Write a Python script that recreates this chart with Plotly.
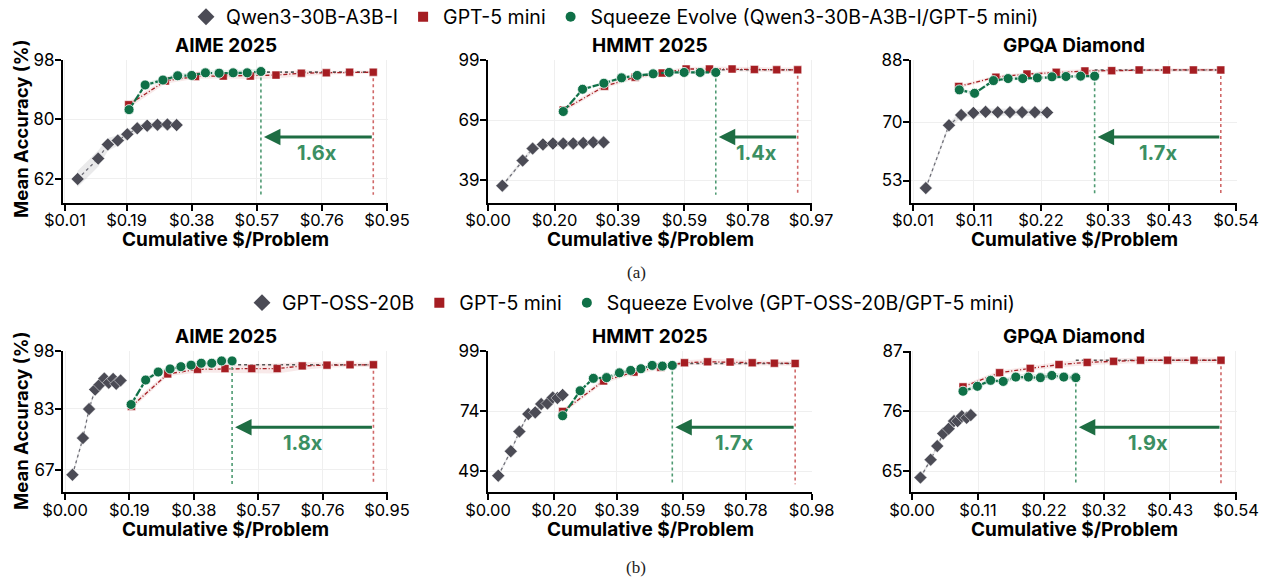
import plotly.graph_objects as go

# ---------------- data ----------------
benchmarks = ["AIME 2025", "HMMT 2025", "GPQA Diamond"]
weak_a_name = "Qwen3-30B-A3B-I"
weak_b_name = "GPT-OSS-20B"
strong_name = "GPT-5 mini"
squeeze_a_name = "Squeeze Evolve (Qwen3-30B-A3B-I/GPT-5 mini)"
squeeze_b_name = "Squeeze Evolve (GPT-OSS-20B/GPT-5 mini)"

# GPT-5 mini cumulative $/problem (same budgets in both rows)
gpt5_cost_aime = [0.196, 0.303, 0.391, 0.472, 0.551, 0.626, 0.700, 0.773, 0.841, 0.910]
gpt5_cost_hmmt = [0.226, 0.350, 0.442, 0.523, 0.595, 0.665, 0.733, 0.800, 0.867, 0.930]
gpt5_cost_gpqa = [0.085, 0.146, 0.197, 0.245, 0.292, 0.336, 0.381, 0.426, 0.470, 0.515]

# ---- row (a): Qwen3-30B-A3B-I ----
a_aime_weak_cost = [0.047, 0.107, 0.135, 0.164, 0.192, 0.221, 0.250, 0.280, 0.309, 0.336]
a_aime_weak_acc = [61.9, 68.1, 72.4, 73.6, 75.5, 77.3, 78.1, 78.4, 78.5, 78.3]
a_aime_weak_err = [2.5, 2.5, 2.0, 1.6, 1.4, 1.2, 1.0, 1.0, 1.0, 1.0]
a_aime_gpt5_acc = [84.5, 91.7, 93.1, 93.2, 93.2, 93.5, 94.1, 94.2, 94.4, 94.4]
a_aime_gpt5_err = [1.0, 0.8, 0.7, 0.7, 0.9, 1.0, 0.9, 0.6, 0.5, 0.5]
a_aime_sq_cost = [0.197, 0.244, 0.296, 0.339, 0.380, 0.420, 0.460, 0.501, 0.542, 0.582]
a_aime_sq_acc = [83.0, 90.5, 92.0, 93.3, 93.4, 94.2, 94.1, 94.2, 94.2, 94.6]
a_aime_sq_err = [0.6, 0.7, 0.7, 0.8, 0.8, 0.8, 0.8, 0.8, 0.9, 0.9]

a_hmmt_weak_cost = [0.043, 0.104, 0.134, 0.165, 0.195, 0.226, 0.256, 0.286, 0.316, 0.347]
a_hmmt_weak_acc = [36.4, 48.9, 54.9, 57.0, 57.4, 57.4, 57.5, 57.7, 58.0, 58.0]
a_hmmt_weak_err = [1.0, 1.0, 1.2, 1.5, 1.5, 1.5, 1.5, 1.5, 1.5, 1.5]
a_hmmt_gpt5_acc = [74.2, 86.0, 90.5, 92.6, 94.6, 94.6, 94.6, 94.4, 94.2, 94.2]
a_hmmt_gpt5_err = [1.2, 1.0, 1.0, 1.0, 1.0, 1.2, 1.2, 1.2, 1.2, 1.2]
a_hmmt_sq_cost = [0.226, 0.284, 0.348, 0.401, 0.448, 0.496, 0.544, 0.589, 0.637, 0.684]
a_hmmt_sq_acc = [73.4, 84.5, 87.5, 90.2, 91.4, 92.2, 92.9, 92.9, 92.9, 92.9]
a_hmmt_sq_err = [0.8, 0.8, 0.8, 0.8, 0.8, 0.8, 0.8, 0.8, 0.8, 0.8]

a_gpqa_weak_cost = [0.031, 0.069, 0.089, 0.109, 0.129, 0.149, 0.169, 0.189, 0.210, 0.230]
a_gpqa_weak_acc = [50.8, 69.1, 72.1, 72.7, 73.0, 72.9, 72.9, 72.9, 72.9, 72.8]
a_gpqa_weak_err = [0.6, 0.8, 1.0, 1.0, 1.0, 1.0, 1.0, 1.0, 1.0, 1.0]
a_gpqa_gpt5_acc = [80.4, 83.1, 84.0, 84.5, 84.9, 85.0, 85.2, 85.2, 85.2, 85.2]
a_gpqa_gpt5_err = [0.5, 0.5, 0.5, 0.6, 0.6, 0.5, 0.5, 0.5, 0.5, 0.5]
a_gpqa_sq_cost = [0.086, 0.111, 0.142, 0.166, 0.190, 0.214, 0.238, 0.261, 0.285, 0.308]
a_gpqa_sq_acc = [79.4, 78.4, 82.1, 82.7, 82.7, 82.9, 83.2, 83.3, 83.4, 83.4]
a_gpqa_sq_err = [0.5, 0.5, 0.5, 0.5, 0.5, 0.5, 0.5, 0.5, 0.5, 0.5]

# ---- row (b): GPT-OSS-20B ----
b_aime_weak_cost = [0.022, 0.053, 0.071, 0.089, 0.102, 0.116, 0.129, 0.142, 0.151, 0.164]
b_aime_weak_acc = [65.7, 75.3, 82.9, 88.0, 89.3, 90.9, 89.8, 90.8, 89.5, 90.4]
b_aime_weak_err = [0.6, 0.6, 0.6, 0.6, 0.6, 0.6, 0.6, 0.6, 0.6, 0.6]
b_aime_gpt5_acc = [83.6, 92.1, 93.3, 93.5, 93.5, 93.5, 94.2, 94.4, 94.5, 94.5]
b_aime_gpt5_err = [0.8, 0.6, 0.8, 1.0, 1.2, 1.3, 1.0, 0.7, 0.6, 0.6]
b_aime_sq_cost = [0.195, 0.238, 0.275, 0.310, 0.342, 0.372, 0.402, 0.433, 0.462, 0.493]
b_aime_sq_acc = [84.1, 90.5, 92.6, 93.4, 94.0, 94.4, 94.9, 94.9, 95.5, 95.5]
b_aime_sq_err = [0.6, 0.6, 0.6, 0.6, 0.6, 0.6, 0.7, 0.7, 0.8, 0.8]

b_hmmt_weak_cost = [0.031, 0.069, 0.095, 0.122, 0.143, 0.161, 0.180, 0.196, 0.210, 0.226]
b_hmmt_weak_acc = [47.1, 57.3, 65.5, 72.8, 73.5, 77.0, 77.2, 79.7, 79.5, 80.8]
b_hmmt_weak_err = [0.8, 0.8, 0.8, 0.8, 0.8, 0.8, 0.8, 0.8, 0.8, 0.8]
b_hmmt_gpt5_acc = [73.9, 86.6, 90.3, 92.3, 94.2, 94.6, 94.5, 94.2, 94.0, 93.9]
b_hmmt_gpt5_err = [1.0, 1.0, 1.0, 1.0, 1.0, 1.2, 1.2, 1.0, 1.0, 1.0]
b_hmmt_sq_cost = [0.226, 0.279, 0.319, 0.359, 0.398, 0.432, 0.463, 0.497, 0.528, 0.558]
b_hmmt_sq_acc = [72.1, 82.5, 87.7, 88.0, 90.0, 91.0, 91.7, 93.1, 92.8, 93.1]
b_hmmt_sq_err = [0.7, 0.7, 0.7, 0.7, 0.7, 0.7, 0.7, 0.7, 0.7, 0.7]

b_gpqa_weak_cost = [0.014, 0.031, 0.042, 0.052, 0.061, 0.070, 0.076, 0.083, 0.091, 0.098]
b_gpqa_weak_acc = [63.8, 67.1, 69.6, 71.9, 72.8, 74.2, 74.2, 75.1, 74.8, 75.3]
b_gpqa_weak_err = [0.4, 0.4, 0.4, 0.5, 0.5, 0.5, 0.5, 0.5, 0.5, 0.5]
b_gpqa_gpt5_acc = [80.5, 83.1, 83.9, 84.6, 85.0, 85.2, 85.4, 85.4, 85.4, 85.4]
b_gpqa_gpt5_err = [0.4, 0.4, 0.4, 0.5, 0.5, 0.5, 0.5, 0.5, 0.5, 0.5]
b_gpqa_sq_cost = [0.085, 0.109, 0.131, 0.152, 0.173, 0.194, 0.214, 0.233, 0.253, 0.273]
b_gpqa_sq_acc = [79.7, 80.6, 81.7, 81.5, 82.3, 82.3, 82.2, 82.6, 82.3, 82.2]
b_gpqa_sq_err = [0.4, 0.4, 0.4, 0.4, 0.5, 0.6, 0.6, 0.6, 0.5, 0.5]

speedups_a = ["1.6x", "1.4x", "1.7x"]
speedups_b = ["1.8x", "1.7x", "1.9x"]

xticks_a = [[0.01, 0.19, 0.38, 0.57, 0.76, 0.95], [0.00, 0.20, 0.39, 0.59, 0.78, 0.97], [0.01, 0.11, 0.22, 0.33, 0.43, 0.54]]
xticks_b = [[0.00, 0.19, 0.38, 0.57, 0.76, 0.95], [0.00, 0.20, 0.39, 0.59, 0.78, 0.98], [0.00, 0.11, 0.22, 0.32, 0.43, 0.54]]
yticks_a = [[62, 80, 98], [39, 69, 99], [53, 70, 88]]
yticks_b = [[67, 83, 98], [49, 74, 99], [65, 76, 87]]

# ---------------- styling / layout ----------------
W, H = 1270, 581
FONT = "Inter"
GRAY = "#4b4b55"
GRAY_LINE = "#6f6f78"
RED = "#a51d22"
GREEN = "#0f7047"
ARROW = "#1e6d43"
TXT_GREEN = "#3b8f62"
VRED = "#d06868"
VGREEN = "#4e9a72"
BAND_GRAY = "rgba(150,150,155,0.20)"
BAND_RED = "rgba(200,70,70,0.12)"
BAND_GREEN = "rgba(20,120,70,0.12)"

col_px = [(63, 388), (488, 812), (911, 1237)]
row_px = {"a": (60, 202.5), "b": (351, 492)}
x_ranges = {"a": [[0.0042, 0.953], [0.0, 0.973], [0.0067, 0.5416]],
            "b": [[-0.0059, 0.953], [0.0, 0.981], [-0.0017, 0.5417]]}
y_ranges = {"a": [[54.74, 98.1], [28.0, 99.1], [46.6, 88.1]],
            "b": [[61.2, 98.1], [40.3, 99.1], [61.15, 87.1]]}

panels = [
    ("a", 0, a_aime_weak_cost, a_aime_weak_acc, a_aime_weak_err, gpt5_cost_aime, a_aime_gpt5_acc, a_aime_gpt5_err, a_aime_sq_cost, a_aime_sq_acc, a_aime_sq_err),
    ("a", 1, a_hmmt_weak_cost, a_hmmt_weak_acc, a_hmmt_weak_err, gpt5_cost_hmmt, a_hmmt_gpt5_acc, a_hmmt_gpt5_err, a_hmmt_sq_cost, a_hmmt_sq_acc, a_hmmt_sq_err),
    ("a", 2, a_gpqa_weak_cost, a_gpqa_weak_acc, a_gpqa_weak_err, gpt5_cost_gpqa, a_gpqa_gpt5_acc, a_gpqa_gpt5_err, a_gpqa_sq_cost, a_gpqa_sq_acc, a_gpqa_sq_err),
    ("b", 0, b_aime_weak_cost, b_aime_weak_acc, b_aime_weak_err, gpt5_cost_aime, b_aime_gpt5_acc, b_aime_gpt5_err, b_aime_sq_cost, b_aime_sq_acc, b_aime_sq_err),
    ("b", 1, b_hmmt_weak_cost, b_hmmt_weak_acc, b_hmmt_weak_err, gpt5_cost_hmmt, b_hmmt_gpt5_acc, b_hmmt_gpt5_err, b_hmmt_sq_cost, b_hmmt_sq_acc, b_hmmt_sq_err),
    ("b", 2, b_gpqa_weak_cost, b_gpqa_weak_acc, b_gpqa_weak_err, gpt5_cost_gpqa, b_gpqa_gpt5_acc, b_gpqa_gpt5_err, b_gpqa_sq_cost, b_gpqa_sq_acc, b_gpqa_sq_err),
]

fig = go.Figure()
layout = {}
annotations = []


def band(xr, yr, cost, acc, err, color):
    up = [a + e for a, e in zip(acc, err)]
    lo = [a - e for a, e in zip(acc, err)]
    fig.add_trace(go.Scatter(x=list(cost) + list(cost)[::-1], y=up + lo[::-1], fill="toself",
                             fillcolor=color, line=dict(width=0), mode="lines", hoverinfo="skip",
                             showlegend=False, xaxis=xr, yaxis=yr))


for i, (row, col, wc, wa, we, gc, ga, ge, sc, sa, se) in enumerate(panels):
    n = "" if i == 0 else str(i + 1)
    xr, yr = "x" + n, "y" + n
    x0p, x1p = col_px[col]
    y0p, y1p = row_px[row]
    xrange_ = x_ranges[row][col]
    yrange_ = y_ranges[row][col]
    xt = (xticks_a if row == "a" else xticks_b)[col]
    yt = (yticks_a if row == "a" else yticks_b)[col]
    layout["xaxis" + n] = dict(domain=[x0p / W, x1p / W], range=xrange_, anchor=yr, automargin=False,
                               tickvals=xt, ticktext=["$%.2f" % v for v in xt],
                               showline=True, linecolor="black", linewidth=2, mirror=False,
                               ticks="outside", ticklen=6, tickwidth=2, tickcolor="black",
                               ticklabelstandoff=-4,
                               showgrid=True, gridcolor="#efefef", gridwidth=1, zeroline=False,
                               tickfont=dict(family=FONT, size=16.5, color="black"))
    layout["yaxis" + n] = dict(domain=[1 - y1p / H, 1 - y0p / H], range=yrange_, anchor=xr, automargin=False,
                               tickvals=yt, ticktext=[str(v) for v in yt],
                               showline=True, linecolor="black", linewidth=2,
                               ticks="outside", ticklen=6, tickwidth=2, tickcolor="black",
                               ticklabelstandoff=-3,
                               showgrid=True, gridcolor="#efefef", gridwidth=1, zeroline=False,
                               tickfont=dict(family=FONT, size=17, color="black"))

    lo_y, hi_y = yrange_
    # bands
    band(xr, yr, wc, wa, we, BAND_GRAY)
    band(xr, yr, gc, ga, ge, BAND_RED)
    band(xr, yr, sc, sa, se, BAND_GREEN)

    # vertical dotted lines at final budgets
    y_foot = lo_y + 0.055 * (hi_y - lo_y)
    fig.add_trace(go.Scatter(x=[gc[-1], gc[-1]], y=[ga[-1], y_foot], mode="lines",
                             line=dict(color=VRED, width=1.6, dash="dot"), hoverinfo="skip",
                             showlegend=False, xaxis=xr, yaxis=yr))
    fig.add_trace(go.Scatter(x=[sc[-1], sc[-1]], y=[sa[-1], y_foot], mode="lines",
                             line=dict(color=VGREEN, width=1.6, dash="dot"), hoverinfo="skip",
                             showlegend=False, xaxis=xr, yaxis=yr))
    # horizontal reference at GPT-5 mini final accuracy
    fig.add_trace(go.Scatter(x=[sc[-1], gc[-1]], y=[ga[-1], ga[-1]], mode="lines",
                             line=dict(color="#555555", width=1.6, dash="dot"), hoverinfo="skip",
                             showlegend=False, xaxis=xr, yaxis=yr))

    # series
    fig.add_trace(go.Scatter(x=wc, y=wa, mode="lines+markers",
                             line=dict(color=GRAY_LINE, width=1.3, dash="dot"),
                             marker=dict(symbol="diamond", size=10, color=GRAY, line=dict(color="white", width=0.5)),
                             showlegend=False, xaxis=xr, yaxis=yr))
    fig.add_trace(go.Scatter(x=gc, y=ga, mode="lines+markers",
                             line=dict(color=RED, width=1.3, dash="4px,2px,1px,2px"),
                             marker=dict(symbol="square", size=8, color=RED, line=dict(color="white", width=0.5)),
                             showlegend=False, xaxis=xr, yaxis=yr))
    fig.add_trace(go.Scatter(x=sc, y=sa, mode="lines+markers",
                             line=dict(color=GREEN, width=2.2, dash="8px,2px"),
                             marker=dict(symbol="circle", size=10, color=GREEN, line=dict(color="white", width=0.8)),
                             showlegend=False, xaxis=xr, yaxis=yr))

    # arrow + speedup text
    y_arrow = lo_y + 0.46 * (hi_y - lo_y)
    y_text = lo_y + 0.35 * (hi_y - lo_y)
    annotations.append(dict(x=sc[-1], y=y_arrow, ax=gc[-1], ay=y_arrow, xref=xr, yref=yr,
                            axref=xr, ayref=yr, text="", showarrow=True, arrowhead=2,
                            arrowsize=1.1, arrowwidth=3, arrowcolor=ARROW, standoff=3))
    annotations.append(dict(x=(sc[-1] + gc[-1]) / 2, y=y_text, xref=xr, yref=yr, showarrow=False,
                            text="<b>%s</b>" % (speedups_a if row == "a" else speedups_b)[col],
                            font=dict(family=FONT, size=20, color=TXT_GREEN)))

    # subplot title and x-axis title
    cx = (x0p + x1p) / 2 / W
    title_y = 45 if row == "a" else 336
    xt_y = 239 if row == "a" else 529
    annotations.append(dict(x=cx, y=1 - title_y / H, xref="paper", yref="paper", showarrow=False,
                            text="<b>%s</b>" % benchmarks[col], xanchor="center", yanchor="middle",
                            font=dict(family=FONT, size=19, color="black")))
    annotations.append(dict(x=cx, y=1 - xt_y / H, xref="paper", yref="paper", showarrow=False,
                            text="<b>Cumulative $/Problem</b>", xanchor="center", yanchor="middle",
                            font=dict(family=FONT, size=19, color="black")))

# y-axis titles
for yc in (129, 421):
    annotations.append(dict(x=21 / W, y=1 - yc / H, xref="paper", yref="paper", showarrow=False,
                            text="<b>Mean Accuracy (%)</b>", textangle=-90, xanchor="center", yanchor="middle",
                            font=dict(family=FONT, size=18.5, color="black")))
# captions
for lab, yc in (("(a)", 272), ("(b)", 567)):
    annotations.append(dict(x=636 / W, y=1 - yc / H, xref="paper", yref="paper", showarrow=False,
                            text=lab, xanchor="center", yanchor="middle",
                            font=dict(family="Liberation Serif", size=17, color="#222222")))

# legend entries (marker only)
for lg, names in (("legend", (weak_a_name, strong_name, squeeze_a_name)),
                  ("legend2", (weak_b_name, strong_name, squeeze_b_name))):
    for nm, sym, colr, sz in zip(names, ("diamond", "square", "circle"), (GRAY, RED, GREEN), (13, 10, 10)):
        fig.add_trace(go.Scatter(x=[None], y=[None], mode="markers", name=nm,
                                 marker=dict(symbol=sym, size=sz, color=colr), legend=lg,
                                 xaxis="x", yaxis="y"))

leg_common = dict(orientation="h", xanchor="center", yanchor="middle",
                  font=dict(family=FONT, size=19.5, color="black"), bgcolor="rgba(0,0,0,0)",
                  itemwidth=30, tracegroupgap=0)

fig.update_layout(**layout)
fig.update_layout(
    width=W, height=H, margin=dict(l=0, r=0, t=0, b=0, autoexpand=False),
    paper_bgcolor="white", plot_bgcolor="white",
    annotations=annotations,
    legend=dict(x=0.5 - 20 / W, y=1 - 17 / H, **leg_common),
    legend2=dict(x=0.5 - 4 / W, y=1 - 303 / H, **leg_common),
    font=dict(family=FONT),
)

fig.write_html("out.html")
